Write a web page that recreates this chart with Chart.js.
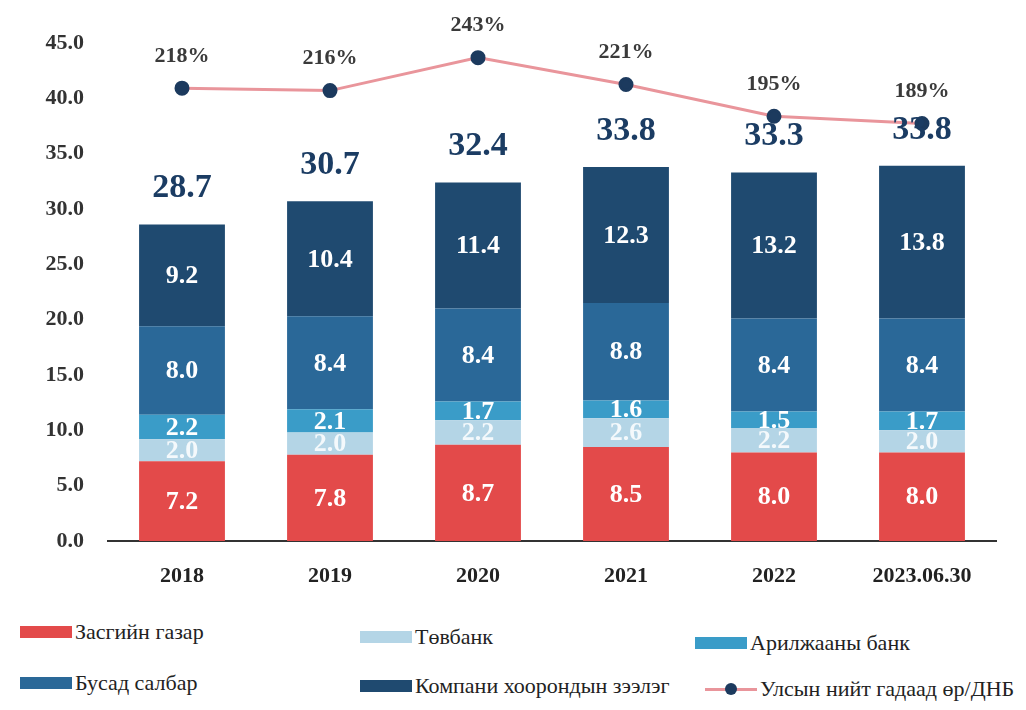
<!DOCTYPE html>
<html>
<head>
<meta charset="utf-8">
<script src="https://cdn.jsdelivr.net/npm/chart.js@4"></script>
<style>
    body { margin: 0; background: #fff; width: 1026px; height: 710px; overflow: hidden; }
    #wrap { position: relative; width: 1026px; height: 710px; }
    #chart { position: absolute; left: 0; top: 0; }
    .item { position: absolute; font-family: "Liberation Serif", serif; font-size: 22px; color: #222; white-space: nowrap; }
    .box { display: inline-block; width: 52px; height: 12px; vertical-align: middle; margin-right: 3px; position: relative; top: -2px; }
    .ln { display: inline-block; width: 52px; height: 14px; vertical-align: middle; margin-right: 3px; position: relative; top: -2px; }
    .ln::before { content: ''; position: absolute; left: 0; right: 0; top: 6px; height: 3px; background: #e9959b; }
    .ln::after { content: ''; position: absolute; left: 20px; top: 1px; width: 12px; height: 12px; border-radius: 50%; background: #1c3a5e; }
</style>
</head>
<body>
<div id="wrap">
    <canvas id="chart" width="1026" height="610"></canvas>
    <div class="item" style="left:20px; top:619px;"><span class="box" style="background:#e34a4a"></span>Засгийн газар</div>
    <div class="item" style="left:360px; top:624px;"><span class="box" style="background:#b4d5e6"></span>Төвбанк</div>
    <div class="item" style="left:695px; top:630px;"><span class="box" style="background:#3a9cc8"></span>Арилжааны банк</div>
    <div class="item" style="left:20px; top:670px;"><span class="box" style="background:#2a6898"></span>Бусад салбар</div>
    <div class="item" style="left:360px; top:673px;"><span class="box" style="background:#1f4a70"></span>Компани хоорондын зээлэг</div>
    <div class="item" style="left:705px; top:676px;"><span class="ln"></span>Улсын нийт гадаад өр/ДНБ</div>
</div>
<script>
// Өгөгдөл
const years = ['2018', '2019', '2020', '2021', '2022', '2023.06.30'];
const zasgiin = [7.2, 7.8, 8.7, 8.5, 8.0, 8.0];
const tovbank = [2.0, 2.0, 2.2, 2.6, 2.2, 2.0];
const arilj = [2.2, 2.1, 1.7, 1.6, 1.5, 1.7];
const busad = [8.0, 8.4, 8.4, 8.8, 8.4, 8.4];
const kompani = [9.2, 10.4, 11.4, 12.3, 13.2, 13.8];
const totals = [28.7, 30.7, 32.4, 33.8, 33.3, 33.8];
const debtGdp = [218, 216, 243, 221, 195, 189];

const serif = '"Liberation Serif", "Times New Roman", serif';

// Шошго зурах plugin
const labelPlugin = {
    id: 'labels',
    afterDatasetsDraw(chart) {
        const ctx = chart.ctx;
        ctx.save();
        ctx.textAlign = 'center';
        ctx.textBaseline = 'middle';

        // Багана доторх утга
        for (let d = 0; d < 5; d++) {
            const meta = chart.getDatasetMeta(d);
            const data = chart.data.datasets[d].data;
            ctx.font = 'bold 26px ' + serif;
            ctx.fillStyle = d === 1 ? 'rgba(255,255,255,0.85)' : '#ffffff';
            meta.data.forEach((bar, i) => {
                ctx.fillText(data[i].toFixed(1), bar.x, (bar.y + bar.base) / 2 + 1);
            });
        }

        // Нийт дүн
        const top = chart.getDatasetMeta(4);
        ctx.font = 'bold 34px ' + serif;
        ctx.fillStyle = '#1b3c63';
        top.data.forEach((bar, i) => {
            ctx.fillText(totals[i].toFixed(1), bar.x, bar.y - 36);
        });

        // Хувь
        const line = chart.getDatasetMeta(5);
        ctx.font = 'bold 22px ' + serif;
        ctx.fillStyle = '#3a3a3a';
        line.data.forEach((pt, i) => {
            ctx.fillText(debtGdp[i] + '%', pt.x, pt.y - 32);
        });
        ctx.restore();
    }
};

const barDs = (label, data, color) => ({
    type: 'bar',
    label: label,
    data: data,
    backgroundColor: color,
    stack: 'debt',
    yAxisID: 'y',
    order: 2,
    barPercentage: 1,
    categoryPercentage: 0.58
});

new Chart(document.getElementById('chart'), {
    data: {
        labels: years,
        datasets: [
            barDs('Засгийн газар', zasgiin, '#e34a4a'),
            barDs('Төвбанк', tovbank, '#b4d5e6'),
            barDs('Арилжааны банк', arilj, '#3a9cc8'),
            barDs('Бусад салбар', busad, '#2a6898'),
            barDs('Компани хоорондын зээлэг', kompani, '#1f4a70'),
            {
                type: 'line',
                label: 'Улсын нийт гадаад өр/ДНБ',
                data: debtGdp,
                yAxisID: 'y1',
                borderColor: '#e9959b',
                borderWidth: 3,
                pointBackgroundColor: '#1c3a5e',
                pointBorderColor: '#1c3a5e',
                pointRadius: 6,
                tension: 0,
                order: 1
            }
        ]
    },
    options: {
        responsive: false,
        animation: false,
        layout: { padding: { top: 43, right: 30, bottom: 9, left: 0 } },
        plugins: {
            legend: { display: false },
            tooltip: { enabled: false }
        },
        scales: {
            x: {
                stacked: true,
                grid: { display: false },
                border: { display: true, color: '#333', width: 2 },
                ticks: { color: '#222', padding: 14, font: { family: serif, size: 22, weight: 'bold' } },
                afterFit(axis) { axis.height = 60; }
            },
            y: {
                stacked: true,
                min: 0,
                max: 45,
                grid: { display: false },
                border: { display: false },
                ticks: {
                    stepSize: 5,
                    padding: 16,
                    color: '#333',
                    font: { family: serif, size: 22, weight: 'bold' },
                    callback: v => v.toFixed(1)
                },
                afterFit(axis) { axis.width = 108; }
            },
            y1: {
                display: false,
                min: -153,
                max: 255
            }
        }
    },
    plugins: [labelPlugin]
});
</script>
</body>
</html>
